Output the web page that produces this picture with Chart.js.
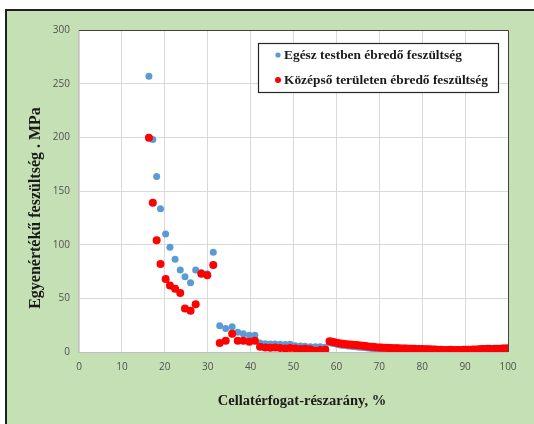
<!DOCTYPE html>
<html>
<head>
<meta charset="utf-8">
<script src="https://cdn.jsdelivr.net/npm/chart.js@4.4.1/dist/chart.umd.min.js"></script>
<style>
  body { margin: 0; background: #ffffff; }
  #wrap { width: 534px; height: 424px; }
</style>
</head>
<body>
<div id="wrap"><canvas id="stressChart" width="534" height="424"></canvas></div>
<script>
// cell volume fraction, %
const volumeFraction = [
  16.3, 17.2, 18.1, 19.0, 20.2, 21.2, 22.4, 23.6, 24.7, 26.0, 27.2, 28.5, 29.9, 31.3,
  32.8, 34.2, 35.7, 37.0, 38.3, 39.7, 41.0,
  42.2, 43.4, 44.6, 45.7, 46.9, 48.1, 49.2, 50.4, 51.6, 52.7, 53.9, 55.1, 56.2, 57.4,
  58.4, 59.0, 59.6, 60.3, 60.9, 61.4, 62.0, 62.7, 63.2, 63.8, 64.5, 65.0, 65.6, 66.3,
  66.8, 67.4, 68.1, 68.6, 69.2, 69.9, 70.4, 71.0, 71.7, 72.2, 72.8, 73.5, 74.0, 74.6,
  75.3, 75.8, 76.4, 77.1, 77.6, 78.2, 78.9, 79.4, 80.0, 80.7, 81.2, 81.8, 82.5, 83.0,
  83.6, 84.3, 84.8, 85.4, 86.1, 86.6, 87.2, 87.9, 88.4, 89.0, 89.7, 90.2, 90.8, 91.5,
  92.0, 92.6, 93.3, 93.8, 94.4, 95.1, 95.6, 96.2, 96.9, 97.4, 98.0, 98.7, 99.2, 99.8
];

// equivalent stress in whole body, MPa
const wholeBodyStress = [
  257, 198, 163.5, 133.5, 110, 97.5, 86.5, 76.5, 70, 64.5, 76.5, 74, 73, 93,
  24.5, 22, 23.6, 18.5, 17, 15.5, 15.5,
  8.4, 7.8, 7.5, 7.5, 7.2, 7.0, 7.2, 5.8, 5.5, 5.3, 5.0, 4.8, 4.8, 4.5,
  8.8, 8.2, 7.6, 7.0, 6.6, 6.2, 6.0, 5.6, 5.5, 5.2, 5.0, 4.6, 4.4, 4.2,
  4.0, 3.7, 3.5, 3.3, 3.1, 3.0, 2.8, 2.7, 2.6, 2.5, 2.4, 2.3, 2.2, 2.2,
  2.1, 2.0, 2.0, 1.9, 1.8, 1.8, 1.7, 1.6, 1.5, 1.5, 1.4, 1.4, 1.3, 1.2,
  1.1, 1.0, 0.9, 0.9, 0.8, 0.9, 0.9, 0.8, 0.8, 0.9, 1.0, 1.0, 1.1, 1.1,
  1.2, 1.3, 1.4, 1.5, 1.5, 1.6, 1.5, 1.5, 1.6, 1.7, 1.6, 1.8, 1.9, 2.0
];

// equivalent stress in the middle region, MPa
const middleRegionStress = [
  199.5, 139, 104, 82, 68, 62, 59, 55, 40.5, 38.5, 44.5, 73, 71.5, 81,
  8.5, 10.5, 17, 10.5, 10.5, 9.5, 10.5,
  5.0, 4.3, 4.0, 4.2, 3.8, 3.2, 3.8, 3.2, 2.8, 3.0, 2.5, 1.2, 1.8, 2.2,
  10.0, 9.5, 9.0, 8.5, 8.0, 7.6, 7.5, 7.0, 7.0, 6.8, 6.5, 6.2, 6.0, 5.8,
  5.5, 5.2, 5.0, 4.8, 4.5, 4.3, 4.2, 4.0, 4.0, 3.8, 3.7, 3.6, 3.5, 3.4,
  3.3, 3.2, 3.2, 3.1, 3.0, 3.0, 2.9, 2.8, 2.7, 2.6, 2.6, 2.5, 2.4, 2.3,
  2.2, 2.0, 1.9, 1.8, 1.8, 2.0, 1.9, 1.8, 1.8, 1.9, 2.0, 2.0, 2.1, 2.2,
  2.3, 2.4, 2.6, 2.8, 2.9, 3.0, 3.0, 2.9, 3.0, 3.1, 3.0, 3.2, 3.3, 3.4
];

const seriesNames = ["Egész testben ébredő feszültség", "Középső területen ébredő feszültség"];
const xTicks = [0, 10, 20, 30, 40, 50, 60, 70, 80, 90, 100];
const yTicks = [0, 50, 100, 150, 200, 250, 300];
const xTitle = "Cellatérfogat-részarány, %";
const yTitle = "Egyenértékű feszültség . MPa";

const BLUE = "#5B9BD5";
const RED = "#FF0000";
const GREEN = "#C5E0B4";

function toPoints(ys) {
    return volumeFraction.map((x, i) => ({ x: x, y: ys[i] }));
}

var framePlugin = {
    id: "frame",
    beforeDraw(chart) {
        let ctx = chart.ctx;
        let a = chart.chartArea;
        ctx.save();
        ctx.fillStyle = "#ffffff";
        ctx.fillRect(0, 0, chart.width, chart.height);
        ctx.fillStyle = GREEN;
        ctx.fillRect(6, 10, chart.width - 6, chart.height - 10);
        ctx.strokeStyle = "#1f1f1f";
        ctx.lineWidth = 2;
        ctx.beginPath();
        ctx.moveTo(6, chart.height);
        ctx.lineTo(6, 10);
        ctx.lineTo(chart.width, 10);
        ctx.stroke();
        ctx.fillStyle = "#ffffff";
        ctx.fillRect(a.left, a.top, a.right - a.left, a.bottom - a.top);
        ctx.restore();
    },
    afterDatasetsDraw(chart) {
        let ctx = chart.ctx;
        let a = chart.chartArea;
        ctx.save();
        // plot border
        ctx.strokeStyle = "#404040";
        ctx.lineWidth = 1;
        ctx.beginPath();
        ctx.moveTo(a.left, a.top + 0.5);
        ctx.lineTo(a.right + 0.5, a.top + 0.5);
        ctx.lineTo(a.right + 0.5, a.bottom);
        ctx.stroke();
        ctx.strokeStyle = "#BFBFBF";
        ctx.beginPath();
        ctx.moveTo(a.left - 0.5, a.top);
        ctx.lineTo(a.left - 0.5, a.bottom + 0.5);
        ctx.lineTo(a.right, a.bottom + 0.5);
        ctx.stroke();

        // legend
        let lx = 258, ly = 43, lw = 240, lh = 49;
        ctx.fillStyle = "#ffffff";
        ctx.fillRect(lx, ly, lw, lh);
        ctx.strokeStyle = "#262626";
        ctx.lineWidth = 1.2;
        ctx.strokeRect(lx + 0.5, ly + 0.5, lw, lh);
        let colors = [BLUE, RED];
        let radii = [2.6, 3.0];
        let rows = [55, 80];
        ctx.font = "bold 13.4px 'Liberation Serif'";
        ctx.textBaseline = "middle";
        ctx.textAlign = "left";
        for (let i = 0; i < 2; i++) {
            ctx.fillStyle = colors[i];
            ctx.beginPath();
            ctx.arc(278, rows[i], radii[i], 0, Math.PI * 2);
            ctx.fill();
            ctx.fillStyle = "#1a1a1a";
            ctx.fillText(seriesNames[i], 284, rows[i] + 1);
        }

        // axis titles
        ctx.fillStyle = "#1a1a1a";
        ctx.font = "bold 14.5px 'Liberation Serif'";
        ctx.textAlign = "center";
        ctx.fillText(xTitle, 302, 401);
        ctx.font = "bold 16px 'Liberation Serif'";
        ctx.translate(36, 208);
        ctx.rotate(-Math.PI / 2);
        ctx.fillText(yTitle, 0, 0);
        ctx.restore();
    }
};

const ctx = document.getElementById("stressChart");
new Chart(ctx, {
    type: "scatter",
    data: {
        datasets: [
            {
                label: seriesNames[0],
                data: toPoints(wholeBodyStress),
                backgroundColor: BLUE,
                borderWidth: 0,
                pointRadius: 3.5,
                order: 1
            },
            {
                label: seriesNames[1],
                data: toPoints(middleRegionStress),
                backgroundColor: RED,
                borderWidth: 0,
                pointRadius: 4,
                order: 0
            }
        ]
    },
    options: {
        responsive: false,
        animation: false,
        layout: { padding: { top: 30, right: 26, left: 0, bottom: 0 } },
        plugins: {
            legend: { display: false },
            tooltip: { enabled: false }
        },
        scales: {
            x: {
                type: "linear",
                min: 0,
                max: 100,
                afterBuildTicks: (scale) => { scale.ticks = xTicks.map(v => ({ value: v })); },
                afterFit: (scale) => { scale.height = 72; },
                grid: { color: "#D9D9D9", drawTicks: false },
                border: { display: false },
                ticks: { padding: 9, color: "#505050", font: { family: "'Open Sans'", size: 10 } }
            },
            y: {
                type: "linear",
                min: 0,
                max: 300,
                afterBuildTicks: (scale) => { scale.ticks = yTicks.map(v => ({ value: v })); },
                afterFit: (scale) => { scale.width = 79; },
                grid: { color: "#D9D9D9", drawTicks: false },
                border: { display: false },
                ticks: { padding: 9, color: "#505050", font: { family: "'Open Sans'", size: 10 } }
            }
        }
    },
    plugins: [framePlugin]
});
</script>
</body>
</html>
